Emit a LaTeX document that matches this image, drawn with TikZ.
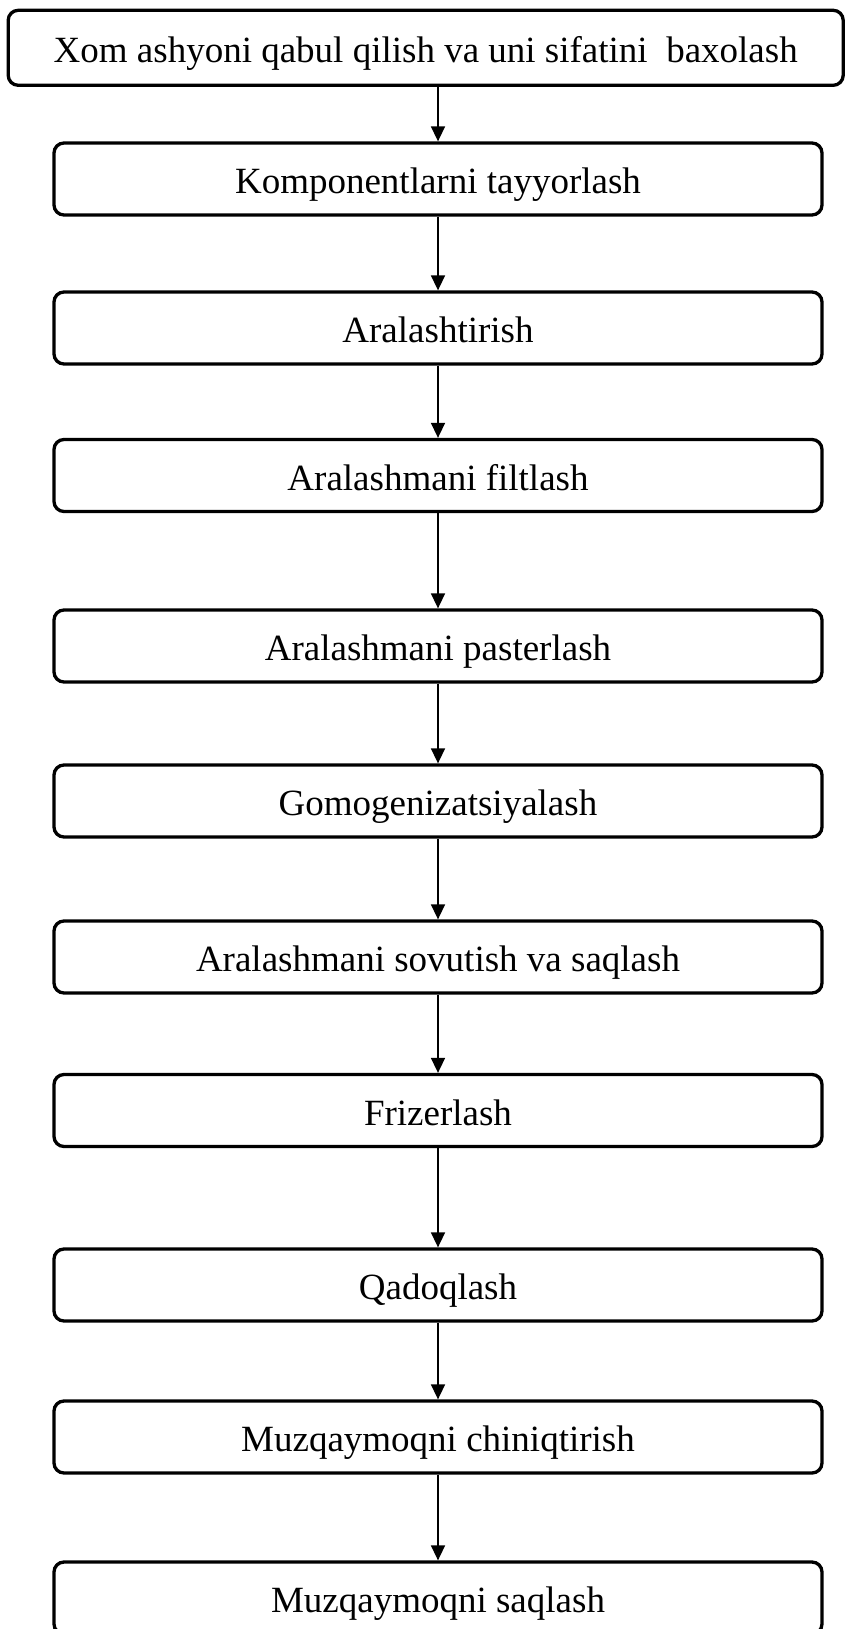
\documentclass[tikz,border=0pt]{standalone}
\usepackage{fontspec}
\setmainfont{Liberation Serif}
\usetikzlibrary{arrows.meta}
\begin{document}
\begin{tikzpicture}[x=1pt,y=-1pt,
  stepbox/.style={draw=black,line width=3.3pt,rounded corners=10pt,fill=white,
    minimum width=768pt,minimum height=72pt,inner sep=0pt,
    text height=29pt,text depth=0pt,
    font=\fontsize{37}{40}\selectfont},
  flow/.style={line width=1.6pt,-{Triangle[length=15pt,width=14pt]}}]
\useasboundingbox (0,0) rectangle (845,1629);
\node[stepbox,minimum width=835pt,minimum height=75pt] (b1) at (425.7,47.8) {Xom ashyoni qabul qilish va uni sifatini \ baxolash};
\node[stepbox] (b2) at (438,179) {Komponentlarni tayyorlash};
\node[stepbox] (b3) at (438,328) {Aralashtirish};
\node[stepbox] (b4) at (438,475.5) {Aralashmani filtlash};
\node[stepbox] (b5) at (438,646) {Aralashmani pasterlash};
\node[stepbox] (b6) at (438,801) {Gomogenizatsiyalash};
\node[stepbox] (b7) at (438,957) {Aralashmani sovutish va saqlash};
\node[stepbox] (b8) at (438,1110.5) {Frizerlash};
\node[stepbox] (b9) at (438,1285) {Qadoqlash};
\node[stepbox] (b10) at (438,1437) {Muzqaymoqni chiniqtirish};
\node[stepbox] (b11) at (438,1598) {Muzqaymoqni saqlash};
\draw[flow] (b2.north |- b1.south) -- (b2.north);
\foreach \a/\b in {b2/b3,b3/b4,b4/b5,b5/b6,b6/b7,b7/b8,b8/b9,b9/b10,b10/b11}
  \draw[flow] (\a.south) -- (\b.north);
\end{tikzpicture}
\end{document}
